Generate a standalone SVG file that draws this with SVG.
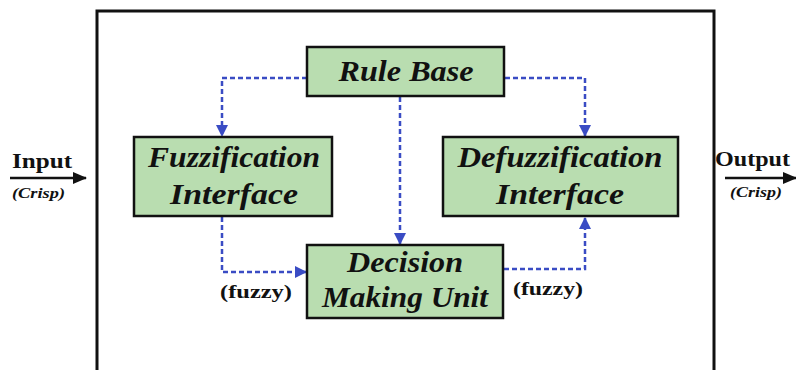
<svg xmlns="http://www.w3.org/2000/svg" width="796" height="370" viewBox="0 0 796 370">
  <style>
    .box { fill: #b9ddb0; stroke: #111; stroke-width: 2.5; }
    .frame { fill: #fff; stroke: #111; stroke-width: 3; }
    .dash { fill: none; stroke: #3a4cc4; stroke-width: 2.5; stroke-dasharray: 5 3; }
    .solid { fill: none; stroke: #111; stroke-width: 2.5; }
  </style>
  <defs>
    <marker id="blueArrow" viewBox="0 0 12 12" refX="11" refY="6" markerWidth="12" markerHeight="12" markerUnits="userSpaceOnUse" orient="auto">
      <path d="M0,0 L12,6 L0,12 Z" fill="#3a4cc4"/>
    </marker>
    <marker id="blackArrow" viewBox="0 0 14 12" refX="13" refY="6" markerWidth="14" markerHeight="12" markerUnits="userSpaceOnUse" orient="auto">
      <path d="M0,0 L14,6 L0,12 Z" fill="#111"/>
    </marker>
  </defs>

  <rect width="796" height="370" fill="#fff"/>
  <rect class="frame" x="97" y="11" width="617" height="370"/>

  <g id="connectors">
    <path class="dash" d="M307,78 H222 V136" marker-end="url(#blueArrow)"/>
    <path class="dash" d="M505,78 H585 V136" marker-end="url(#blueArrow)"/>
    <path class="dash" d="M400,97 V244" marker-end="url(#blueArrow)"/>
    <path class="dash" d="M222,217 V272 H306" marker-end="url(#blueArrow)"/>
    <path class="dash" d="M504,269 H585 V218" marker-end="url(#blueArrow)"/>
    <path class="solid" d="M10,178 H86" marker-end="url(#blackArrow)"/>
    <path class="solid" d="M725,178 H796" marker-end="url(#blackArrow)"/>
  </g>

  <!-- box labels: bold italic serif, centred -->
  <g id="rule-base">
    <rect class="box" x="307" y="47" width="197" height="49"/>
    <text x="406" y="81" font-family="Liberation Serif" font-size="30" font-weight="bold" font-style="italic" fill="#111" text-anchor="middle" textLength="135" lengthAdjust="spacingAndGlyphs">Rule Base</text>
  </g>

  <g id="fuzzification">
    <rect class="box" x="134" y="137" width="198" height="79"/>
    <text x="234" y="167" font-family="Liberation Serif" font-size="30" font-weight="bold" font-style="italic" fill="#111" text-anchor="middle" textLength="172" lengthAdjust="spacingAndGlyphs">Fuzzification</text>
    <text x="234" y="204" font-family="Liberation Serif" font-size="30" font-weight="bold" font-style="italic" fill="#111" text-anchor="middle" textLength="128" lengthAdjust="spacingAndGlyphs">Interface</text>
  </g>

  <g id="defuzzification">
    <rect class="box" x="443" y="137" width="235" height="79"/>
    <text x="560" y="167" font-family="Liberation Serif" font-size="30" font-weight="bold" font-style="italic" fill="#111" text-anchor="middle" textLength="205" lengthAdjust="spacingAndGlyphs">Defuzzification</text>
    <text x="560" y="204" font-family="Liberation Serif" font-size="30" font-weight="bold" font-style="italic" fill="#111" text-anchor="middle" textLength="128" lengthAdjust="spacingAndGlyphs">Interface</text>
  </g>

  <g id="decision">
    <rect class="box" x="307" y="245" width="196" height="73"/>
    <text x="405" y="272" font-family="Liberation Serif" font-size="30" font-weight="bold" font-style="italic" fill="#111" text-anchor="middle" textLength="116" lengthAdjust="spacingAndGlyphs">Decision</text>
    <text x="405" y="307" font-family="Liberation Serif" font-size="30" font-weight="bold" font-style="italic" fill="#111" text-anchor="middle" textLength="166" lengthAdjust="spacingAndGlyphs">Making Unit</text>
  </g>

  <g id="input">
    <text x="12" y="168" font-family="Liberation Serif" font-size="20" font-weight="bold" fill="#111" textLength="60" lengthAdjust="spacingAndGlyphs">Input</text>
    <text x="12" y="198" font-family="Liberation Serif" font-size="14" font-weight="bold" font-style="italic" fill="#111" textLength="53" lengthAdjust="spacingAndGlyphs">(Crisp)</text>
  </g>

  <g id="output">
    <text x="715" y="166" font-family="Liberation Serif" font-size="20" font-weight="bold" fill="#111" textLength="75" lengthAdjust="spacingAndGlyphs">Output</text>
    <text x="730" y="197" font-family="Liberation Serif" font-size="14" font-weight="bold" font-style="italic" fill="#111" textLength="52" lengthAdjust="spacingAndGlyphs">(Crisp)</text>
  </g>

  <g id="fuzzy-labels">
    <text x="220" y="298" font-family="Liberation Serif" font-size="19" font-weight="bold" fill="#111" textLength="72" lengthAdjust="spacingAndGlyphs">(fuzzy)</text>
    <text x="513" y="295" font-family="Liberation Serif" font-size="19" font-weight="bold" fill="#111" textLength="70" lengthAdjust="spacingAndGlyphs">(fuzzy)</text>
  </g>
</svg>
